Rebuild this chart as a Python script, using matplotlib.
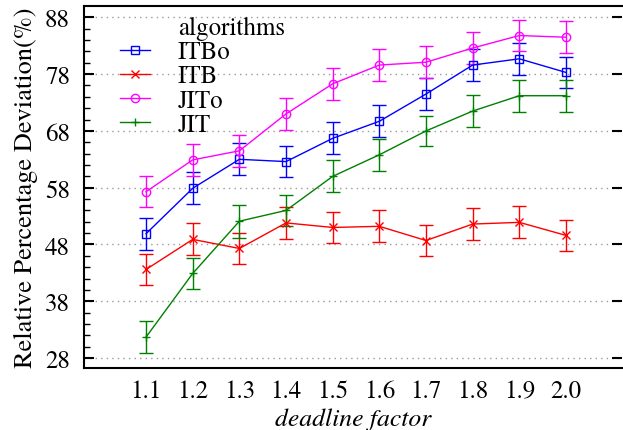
import matplotlib
matplotlib.use("Agg")
import matplotlib.pyplot as plt
from matplotlib.ticker import FixedLocator
from matplotlib.lines import Line2D

plt.rcParams['font.family'] = ['TeX Gyre Termes', 'STIXGeneral', 'DejaVu Serif']

x = [1.1, 1.2, 1.3, 1.4, 1.5, 1.6, 1.7, 1.8, 1.9, 2.0]
xlabels = ["1.1", "1.2", "1.3", "1.4", "1.5", "1.6", "1.7", "1.8", "1.9", "2.0"]

itbo = [49.9, 57.9, 63.0, 62.6, 66.7, 69.7, 74.5, 79.6, 80.7, 78.3]
itbo_err = [2.8, 2.8, 2.8, 2.8, 2.8, 2.8, 2.8, 2.8, 2.8, 2.8]
itb = [43.6, 48.9, 47.3, 51.8, 51.0, 51.2, 48.7, 51.6, 51.9, 49.6]
itb_err = [2.8, 2.8, 2.8, 2.8, 2.8, 2.8, 2.8, 2.8, 2.8, 2.8]
jito = [57.3, 62.9, 64.5, 71.0, 76.3, 79.6, 80.1, 82.6, 84.8, 84.5]
jito_err = [2.7, 2.8, 2.8, 2.8, 2.8, 2.8, 2.8, 2.8, 2.8, 2.8]
jit = [31.7, 42.9, 52.1, 54.0, 60.0, 63.8, 68.0, 71.5, 74.2, 74.2]
jit_err = [2.8, 2.8, 2.9, 2.8, 2.8, 2.8, 2.7, 2.8, 2.8, 2.8]
yticks = [28, 38, 48, 58, 68, 78, 88]

series = [
    ("ITBo", itbo, itbo_err, "#0000ff", "s"),
    ("ITB", itb, itb_err, "#ff0000", "x"),
    ("JITo", jito, jito_err, "#ff00ff", "o"),
    ("JIT", jit, jit_err, "#008000", "+"),
]

fig = plt.figure(figsize=(6.23, 4.31), dpi=100)
ax = fig.add_axes([84/623, 1-369/431, (622-84)/623, (369-7)/431])

handles = [Line2D([], [], color='none', label='algorithms')]
for name, vals, errs, col, mk in series:
    ax.errorbar(x, vals, yerr=errs, color=col, marker=mk, markersize=6,
                markerfacecolor='none', markeredgecolor=col, markeredgewidth=1.0,
                linewidth=1.0, elinewidth=1.0, capsize=5, capthick=1.0)
    handles.append(Line2D([], [], color=col, marker=mk, markersize=6,
                          markerfacecolor='none', markeredgecolor=col,
                          linewidth=1.0, label=name))

ax.set_xlim(0.967, 2.12)
ax.set_ylim(26.25, 90.0)
ax.set_xticks(x)
ax.set_xticklabels(xlabels)
ax.set_yticks(yticks)
ax.yaxis.set_minor_locator(FixedLocator([v for v in range(28, 90, 2)]))

ax.grid(axis='y', which='major', linestyle=(0, (1, 3)), color='#999999', linewidth=1.0)
ax.tick_params(axis='x', length=0, labelsize=18, pad=8)
ax.tick_params(axis='y', which='major', direction='in', length=7, width=1.5,
               labelsize=18, pad=10, right=True, left=True)
ax.tick_params(axis='y', which='minor', direction='in', length=4, width=1.0, left=True, right=False)

for s in ['left', 'top', 'bottom']:
    ax.spines[s].set_linewidth(1.5)
ax.spines['right'].set_visible(False)

ax.set_xlabel("deadline factor", fontsize=18.5, style='italic', labelpad=3)
ax.set_ylabel("Relative Percentage Deviation(%)", fontsize=19, labelpad=5)

leg = ax.legend(handles=handles, loc='upper left', frameon=False, fontsize=18,
                bbox_to_anchor=(0.035, 1.02), handlelength=1.2,
                labelspacing=0.0, borderpad=0.2, handletextpad=1.1)

fig.savefig("out.png", dpi=100)
